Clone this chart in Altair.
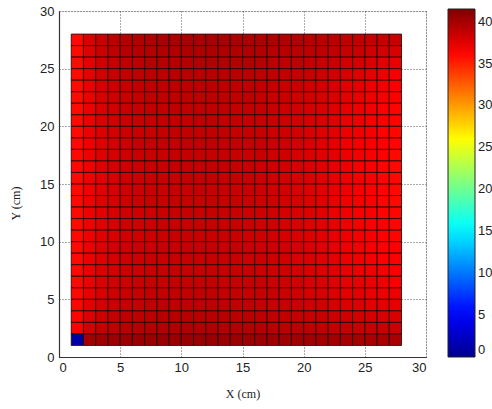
import altair as alt
import pandas as pd

# Temperature field, rows from Y=27 (top) down to Y=1 (bottom), columns X=1..27
temp_rows = [
    [36.0, 37.8, 38.6, 39.1, 39.4, 39.5, 39.6, 39.7, 39.7, 39.8, 39.8, 39.8, 39.8, 39.7, 39.7, 39.6, 39.6, 39.5, 39.4, 39.3, 39.2, 39.1, 39.0, 38.9, 38.8, 38.7, 38.6],
    [35.9, 37.6, 38.4, 38.9, 39.2, 39.3, 39.4, 39.5, 39.5, 39.6, 39.6, 39.6, 39.6, 39.5, 39.5, 39.4, 39.3, 39.2, 39.1, 39.0, 38.9, 38.8, 38.6, 38.5, 38.3, 38.1, 37.9],
    [35.9, 37.4, 38.2, 38.7, 39.0, 39.1, 39.2, 39.3, 39.3, 39.4, 39.4, 39.4, 39.4, 39.3, 39.3, 39.2, 39.1, 39.0, 38.9, 38.8, 38.6, 38.5, 38.3, 38.1, 37.8, 37.5, 37.2],
    [35.9, 37.3, 38.1, 38.5, 38.8, 39.0, 39.1, 39.1, 39.2, 39.2, 39.2, 39.2, 39.2, 39.2, 39.1, 39.0, 38.9, 38.8, 38.7, 38.5, 38.3, 38.1, 37.9, 37.6, 37.3, 37.0, 36.7],
    [35.9, 37.2, 38.0, 38.4, 38.7, 38.9, 39.0, 39.0, 39.1, 39.1, 39.1, 39.1, 39.1, 39.0, 39.0, 38.9, 38.8, 38.6, 38.5, 38.3, 38.1, 37.9, 37.6, 37.4, 37.1, 36.8, 36.5],
    [35.9, 37.1, 37.9, 38.3, 38.6, 38.8, 38.9, 38.9, 39.0, 39.0, 39.0, 39.0, 39.0, 38.9, 38.9, 38.8, 38.6, 38.5, 38.3, 38.1, 37.9, 37.7, 37.4, 37.2, 36.9, 36.6, 36.3],
    [35.9, 37.1, 37.8, 38.2, 38.5, 38.7, 38.8, 38.8, 38.9, 38.9, 38.9, 38.9, 38.9, 38.8, 38.8, 38.7, 38.5, 38.4, 38.2, 38.0, 37.8, 37.6, 37.3, 37.0, 36.8, 36.5, 36.2],
    [35.9, 37.0, 37.7, 38.1, 38.4, 38.6, 38.7, 38.8, 38.8, 38.8, 38.9, 38.9, 38.8, 38.8, 38.7, 38.6, 38.5, 38.3, 38.1, 37.9, 37.7, 37.5, 37.2, 36.9, 36.7, 36.5, 36.2],
    [35.9, 37.0, 37.7, 38.1, 38.4, 38.5, 38.6, 38.7, 38.8, 38.8, 38.8, 38.8, 38.8, 38.7, 38.7, 38.6, 38.4, 38.3, 38.1, 37.9, 37.6, 37.4, 37.1, 36.9, 36.6, 36.4, 36.1],
    [36.0, 37.0, 37.6, 38.0, 38.3, 38.5, 38.6, 38.7, 38.7, 38.8, 38.8, 38.8, 38.7, 38.7, 38.6, 38.5, 38.4, 38.2, 38.0, 37.8, 37.6, 37.3, 37.1, 36.8, 36.6, 36.3, 36.1],
    [36.0, 36.9, 37.6, 38.0, 38.3, 38.5, 38.6, 38.6, 38.7, 38.7, 38.7, 38.7, 38.7, 38.6, 38.6, 38.5, 38.3, 38.2, 38.0, 37.7, 37.5, 37.3, 37.0, 36.8, 36.5, 36.3, 36.0],
    [36.0, 36.9, 37.6, 38.0, 38.2, 38.4, 38.5, 38.6, 38.7, 38.7, 38.7, 38.7, 38.7, 38.6, 38.5, 38.4, 38.3, 38.1, 37.9, 37.7, 37.5, 37.2, 37.0, 36.7, 36.5, 36.2, 36.0],
    [36.0, 36.9, 37.5, 37.9, 38.2, 38.4, 38.5, 38.6, 38.6, 38.7, 38.7, 38.7, 38.6, 38.6, 38.5, 38.4, 38.3, 38.1, 37.9, 37.7, 37.4, 37.2, 37.0, 36.7, 36.5, 36.2, 36.0],
    [36.0, 36.9, 37.5, 37.9, 38.2, 38.4, 38.5, 38.6, 38.6, 38.6, 38.7, 38.6, 38.6, 38.5, 38.5, 38.4, 38.2, 38.1, 37.9, 37.6, 37.4, 37.2, 37.0, 36.7, 36.5, 36.2, 36.0],
    [36.0, 36.9, 37.5, 37.9, 38.2, 38.4, 38.5, 38.5, 38.6, 38.6, 38.6, 38.6, 38.6, 38.5, 38.4, 38.3, 38.2, 38.0, 37.8, 37.6, 37.4, 37.1, 36.9, 36.7, 36.5, 36.2, 36.0],
    [36.0, 36.9, 37.5, 37.9, 38.2, 38.3, 38.4, 38.5, 38.6, 38.6, 38.6, 38.6, 38.5, 38.5, 38.4, 38.3, 38.2, 38.0, 37.8, 37.6, 37.4, 37.1, 36.9, 36.7, 36.5, 36.2, 36.1],
    [36.0, 36.9, 37.5, 37.9, 38.2, 38.3, 38.4, 38.5, 38.5, 38.6, 38.6, 38.6, 38.5, 38.5, 38.4, 38.3, 38.2, 38.0, 37.8, 37.6, 37.4, 37.2, 36.9, 36.7, 36.5, 36.3, 36.1],
    [36.0, 36.9, 37.6, 37.9, 38.2, 38.3, 38.4, 38.5, 38.5, 38.6, 38.6, 38.5, 38.5, 38.5, 38.4, 38.3, 38.2, 38.0, 37.8, 37.6, 37.4, 37.2, 37.0, 36.8, 36.6, 36.3, 36.2],
    [36.0, 37.0, 37.6, 38.0, 38.2, 38.4, 38.4, 38.5, 38.5, 38.6, 38.6, 38.5, 38.5, 38.5, 38.4, 38.3, 38.2, 38.1, 37.9, 37.7, 37.5, 37.2, 37.0, 36.8, 36.6, 36.4, 36.3],
    [36.0, 37.0, 37.6, 38.0, 38.2, 38.4, 38.5, 38.5, 38.6, 38.6, 38.6, 38.6, 38.5, 38.5, 38.4, 38.4, 38.3, 38.1, 37.9, 37.7, 37.5, 37.3, 37.1, 36.9, 36.7, 36.5, 36.4],
    [36.0, 37.1, 37.7, 38.0, 38.3, 38.4, 38.5, 38.6, 38.6, 38.6, 38.6, 38.6, 38.6, 38.5, 38.5, 38.4, 38.3, 38.2, 38.0, 37.8, 37.6, 37.4, 37.2, 37.0, 36.8, 36.7, 36.5],
    [36.0, 37.1, 37.7, 38.1, 38.3, 38.5, 38.6, 38.6, 38.7, 38.7, 38.7, 38.7, 38.6, 38.6, 38.5, 38.5, 38.4, 38.3, 38.1, 37.9, 37.7, 37.5, 37.3, 37.2, 37.0, 36.9, 36.7],
    [36.0, 37.2, 37.8, 38.2, 38.4, 38.6, 38.7, 38.7, 38.8, 38.8, 38.8, 38.8, 38.7, 38.7, 38.6, 38.6, 38.5, 38.4, 38.2, 38.0, 37.9, 37.7, 37.5, 37.4, 37.2, 37.1, 37.0],
    [36.1, 37.4, 38.0, 38.4, 38.6, 38.7, 38.8, 38.9, 38.9, 38.9, 38.9, 38.9, 38.9, 38.8, 38.8, 38.7, 38.6, 38.5, 38.4, 38.2, 38.1, 38.0, 37.8, 37.7, 37.5, 37.4, 37.3],
    [36.2, 37.7, 38.3, 38.7, 38.9, 39.0, 39.1, 39.2, 39.2, 39.2, 39.2, 39.2, 39.2, 39.1, 39.1, 39.0, 38.9, 38.8, 38.7, 38.6, 38.5, 38.4, 38.3, 38.1, 38.0, 37.9, 37.8],
    [36.3, 38.1, 38.7, 39.0, 39.2, 39.3, 39.4, 39.4, 39.5, 39.5, 39.5, 39.5, 39.4, 39.4, 39.4, 39.3, 39.2, 39.1, 39.1, 39.0, 38.9, 38.8, 38.7, 38.6, 38.5, 38.5, 38.4],
    [1.0, 40.0, 40.2, 40.3, 40.3, 40.4, 40.4, 40.4, 40.4, 40.4, 40.4, 40.4, 40.4, 40.3, 40.3, 40.3, 40.2, 40.2, 40.1, 40.1, 40.0, 40.0, 39.9, 39.9, 39.8, 39.8, 39.7],
]

x_cells = list(range(1, 28))          # left edge of each cell (cm)
y_cells = list(range(27, 0, -1))      # bottom edge of each row, top row first (cm)
axis_ticks = [0, 5, 10, 15, 20, 25, 30]
bar_ticks = [0, 5, 10, 15, 20, 25, 30, 35, 40]
jet_stops = [0, 5.1875, 15.5625, 25.9375, 36.3125, 41.5]
jet_colors = ["#000090", "#0000ff", "#00ffff", "#ffff00", "#ff0000", "#800000"]

records = []
for yv, row in zip(y_cells, temp_rows):
    for xv, t in zip(x_cells, row):
        records.append({"x": xv, "x2": xv + 1, "y": yv, "y2": yv + 1, "t": t})
df = pd.DataFrame(records)

axis_common = dict(
    values=axis_ticks,
    grid=True,
    gridDash=[1, 2],
    gridColor="#444444",
    gridWidth=1,
    gridOpacity=0.9,
    ticks=False,
    domainColor="#333333",
    domainWidth=1.2,
    labelFont="Liberation Sans",
    labelFontSize=13,
    labelColor="#222222",
    titleFont="Liberation Serif",
    titleFontSize=12,
    titleFontWeight="normal",
    titleColor="#222222",
)

chart = alt.Chart(df).mark_rect(stroke="#1a0000", strokeWidth=1, strokeOpacity=0.8).encode(
    x=alt.X("x:Q", scale=alt.Scale(domain=[0, 30], nice=False),
            axis=alt.Axis(title="X (cm)", labelPadding=4, titlePadding=14, **axis_common)),
    x2="x2:Q",
    y=alt.Y("y:Q", scale=alt.Scale(domain=[0, 30], nice=False),
            axis=alt.Axis(title="Y (cm)", labelPadding=5, titleX=-44, titleY=192,
                          titleBaseline="middle", **axis_common)),
    y2="y2:Q",
    color=alt.Color(
        "t:Q",
        scale=alt.Scale(domain=jet_stops, range=jet_colors, interpolate="rgb"),
        legend=alt.Legend(
            title=None, orient="none", legendX=389, legendY=-2,
            direction="vertical", gradientLength=348, gradientThickness=27,
            values=bar_ticks, labelFont="Liberation Sans", labelFontSize=13,
            labelColor="#222222", labelOffset=3, labelOverlap=False,
            gradientStrokeColor="#222222", gradientStrokeWidth=1,
        ),
    ),
).properties(
    width=367, height=346,
    autosize=alt.AutoSizeParams(type="none"),
    padding={"left": 59, "top": 11, "right": 66, "bottom": 52},
).configure_view(stroke=None).configure(background="white")

chart.save("out.html", embed_options={"renderer": "svg", "actions": False})
